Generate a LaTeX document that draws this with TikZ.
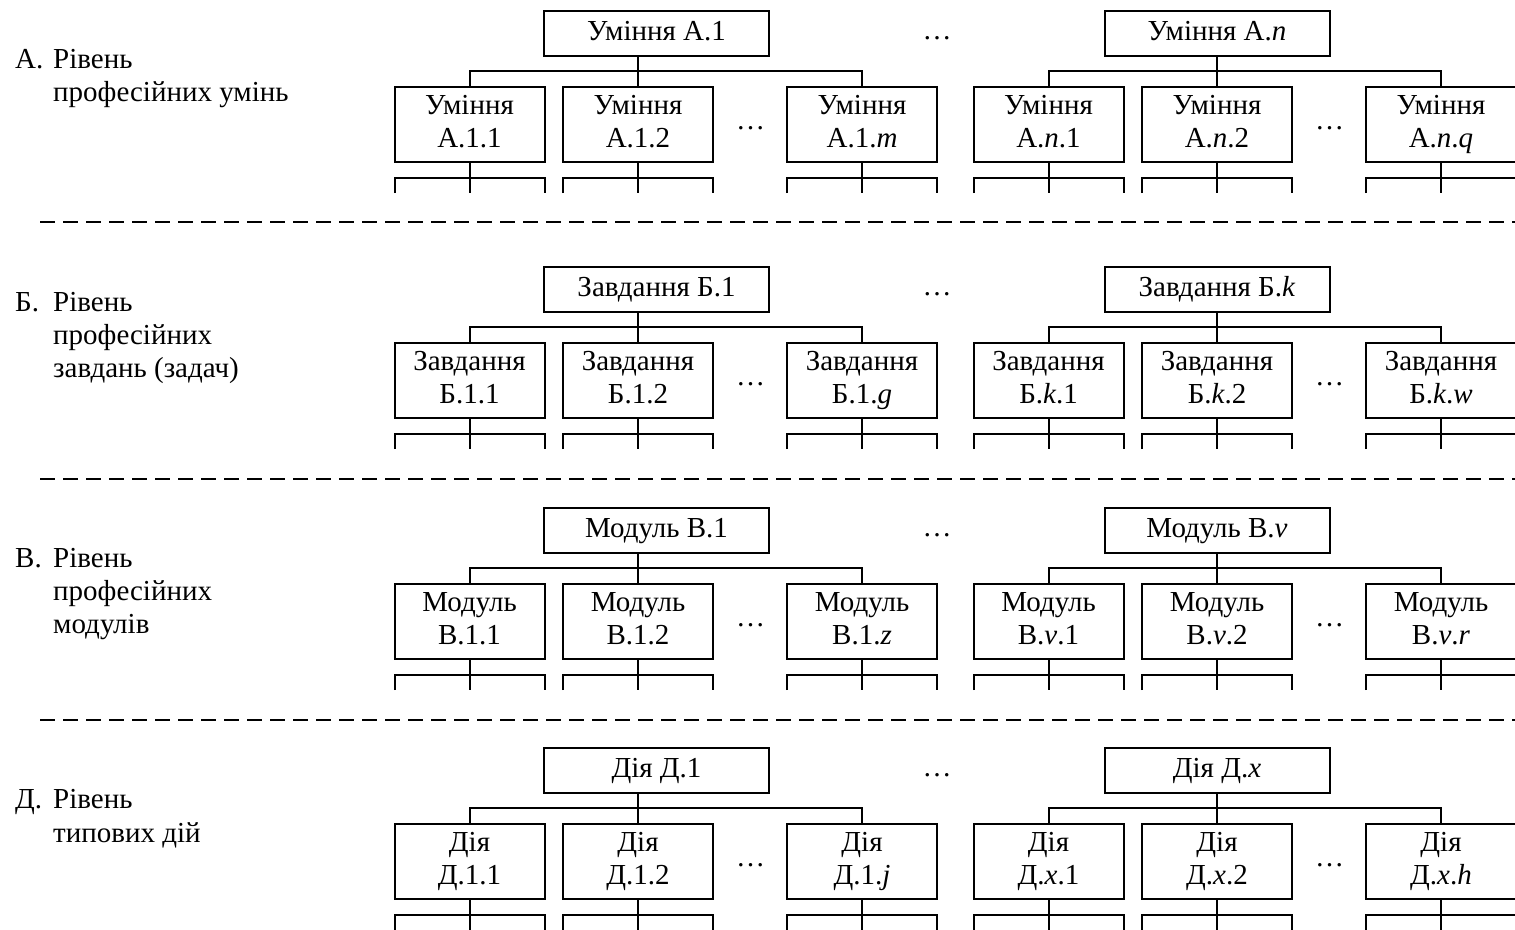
\documentclass[tikz,border=0pt]{standalone}
\usepackage{fontspec}
\setmainfont{Liberation Serif}
\newfontfamily\myserif{Liberation Serif}
\newcommand{\myfont}{\myserif\fontsize{29}{33}\selectfont}
\newcommand{\mytree}[8]{%
  \node[topbox] (#1t) at (#2,{33.5+#4}) {#5};
  \node[box] (#1a) at (#3,{124.5+#4}) {#6};
  \node[box] (#1b) at ({#3+168.5},{124.5+#4}) {#7};
  \node[box] (#1c) at ({#3+392.5},{124.5+#4}) {#8};
  \node[dotsnode] (#1d) at ({#3+281},{128+#4}) {…};
  \coordinate (#1bus) at (0,{71+#4});
  \coordinate (#1fork) at (0,{178+#4});
  \coordinate (#1end) at (0,{193+#4});
  \draw[conn] (#1b.north |- #1t.south) -- (#1b.north);
  \draw[conn] (#1a.north) |- (#1c.north |- #1bus) -- (#1c.north);
  \foreach \k in {a,b,c}{
    \draw[conn] (#1\k.south) -- (#1\k.south |- #1end);
    \draw[conn] (#1\k.south west |- #1end) -- (#1\k.south west |- #1fork) -- (#1\k.south east |- #1fork) -- (#1\k.south east |- #1end);
  }
}
\begin{document}
\begin{tikzpicture}[x=1pt,y=-1pt,
  box/.style={draw, line width=2pt, minimum width=150pt, minimum height=75pt, inner sep=0pt, outer sep=0pt, align=center, font=\myfont, text height=53pt, text depth=7pt},
  topbox/.style={draw, line width=2pt, minimum width=225pt, minimum height=45pt, inner sep=0pt, outer sep=0pt, align=center, font=\myfont, text height=20pt, text depth=7pt},
  dotsnode/.style={inner sep=0pt, font=\myfont},
  lbl/.style={anchor=base west, inner sep=0pt, font=\myfont},
  conn/.style={line width=2pt},
  sepline/.style={line width=2pt, dash pattern=on 15pt off 8pt}]
\fill[white] (0,0) rectangle (1515,929);
\useasboundingbox (0,0) rectangle (1515,929);

% Level A
\node[lbl] (Ak) at (15,68) {А.};
\node[lbl] (A1) at (53,68) {Рівень};
\node[lbl] (A2) at (53,101) {професійних умінь};
\mytree{A}{656.5}{469.5}{0}{Уміння А.1}{Уміння\\А.1.1}{Уміння\\А.1.2}{Уміння\\А.1.\textit{m}}
\node[dotsnode] (Atd) at (937,38) {…};
\mytree{AN}{1217}{1048.5}{0}{Уміння А.\textit{n}}{Уміння\\А.\textit{n}.1}{Уміння\\А.\textit{n}.2}{Уміння\\А.\textit{n}.\textit{q}}
\draw[sepline] (40,222) -- (1515,222);

% Level B
\node[lbl] (Bk) at (15,311) {Б.};
\node[lbl] (B1) at (53,311) {Рівень};
\node[lbl] (B2) at (53,344) {професійних};
\node[lbl] (B3) at (53,377) {завдань (задач)};
\mytree{B}{656.5}{469.5}{256}{Завдання Б.1}{Завдання\\Б.1.1}{Завдання\\Б.1.2}{Завдання\\Б.1.\textit{g}}
\node[dotsnode] (Btd) at (937,294) {…};
\mytree{BK}{1217}{1048.5}{256}{Завдання Б.\textit{k}}{Завдання\\Б.\textit{k}.1}{Завдання\\Б.\textit{k}.2}{Завдання\\Б.\textit{k}.\textit{w}}
\draw[sepline] (40,479) -- (1515,479);

% Level C
\node[lbl] (Ck) at (15,567) {В.};
\node[lbl] (C1) at (53,567) {Рівень};
\node[lbl] (C2) at (53,600) {професійних};
\node[lbl] (C3) at (53,633) {модулів};
\mytree{C}{656.5}{469.5}{497}{Модуль В.1}{Модуль\\В.1.1}{Модуль\\В.1.2}{Модуль\\В.1.\textit{z}}
\node[dotsnode] (Ctd) at (937,535) {…};
\mytree{CV}{1217}{1048.5}{497}{Модуль В.\textit{v}}{Модуль\\В.\textit{v}.1}{Модуль\\В.\textit{v}.2}{Модуль\\В.\textit{v}.\textit{r}}
\draw[sepline] (40,720) -- (1515,720);

% Level D
\node[lbl] (Dk) at (15,808) {Д.};
\node[lbl] (D1) at (53,808) {Рівень};
\node[lbl] (D2) at (53,842) {типових дій};
\mytree{D}{656.5}{469.5}{737}{Дія Д.1}{Дія\\Д.1.1}{Дія\\Д.1.2}{Дія\\Д.1.\textit{j}}
\node[dotsnode] (Dtd) at (937,775) {…};
\mytree{DX}{1217}{1048.5}{737}{Дія Д.\textit{x}}{Дія\\Д.\textit{x}.1}{Дія\\Д.\textit{x}.2}{Дія\\Д.\textit{x}.\textit{h}}
\end{tikzpicture}
\end{document}
